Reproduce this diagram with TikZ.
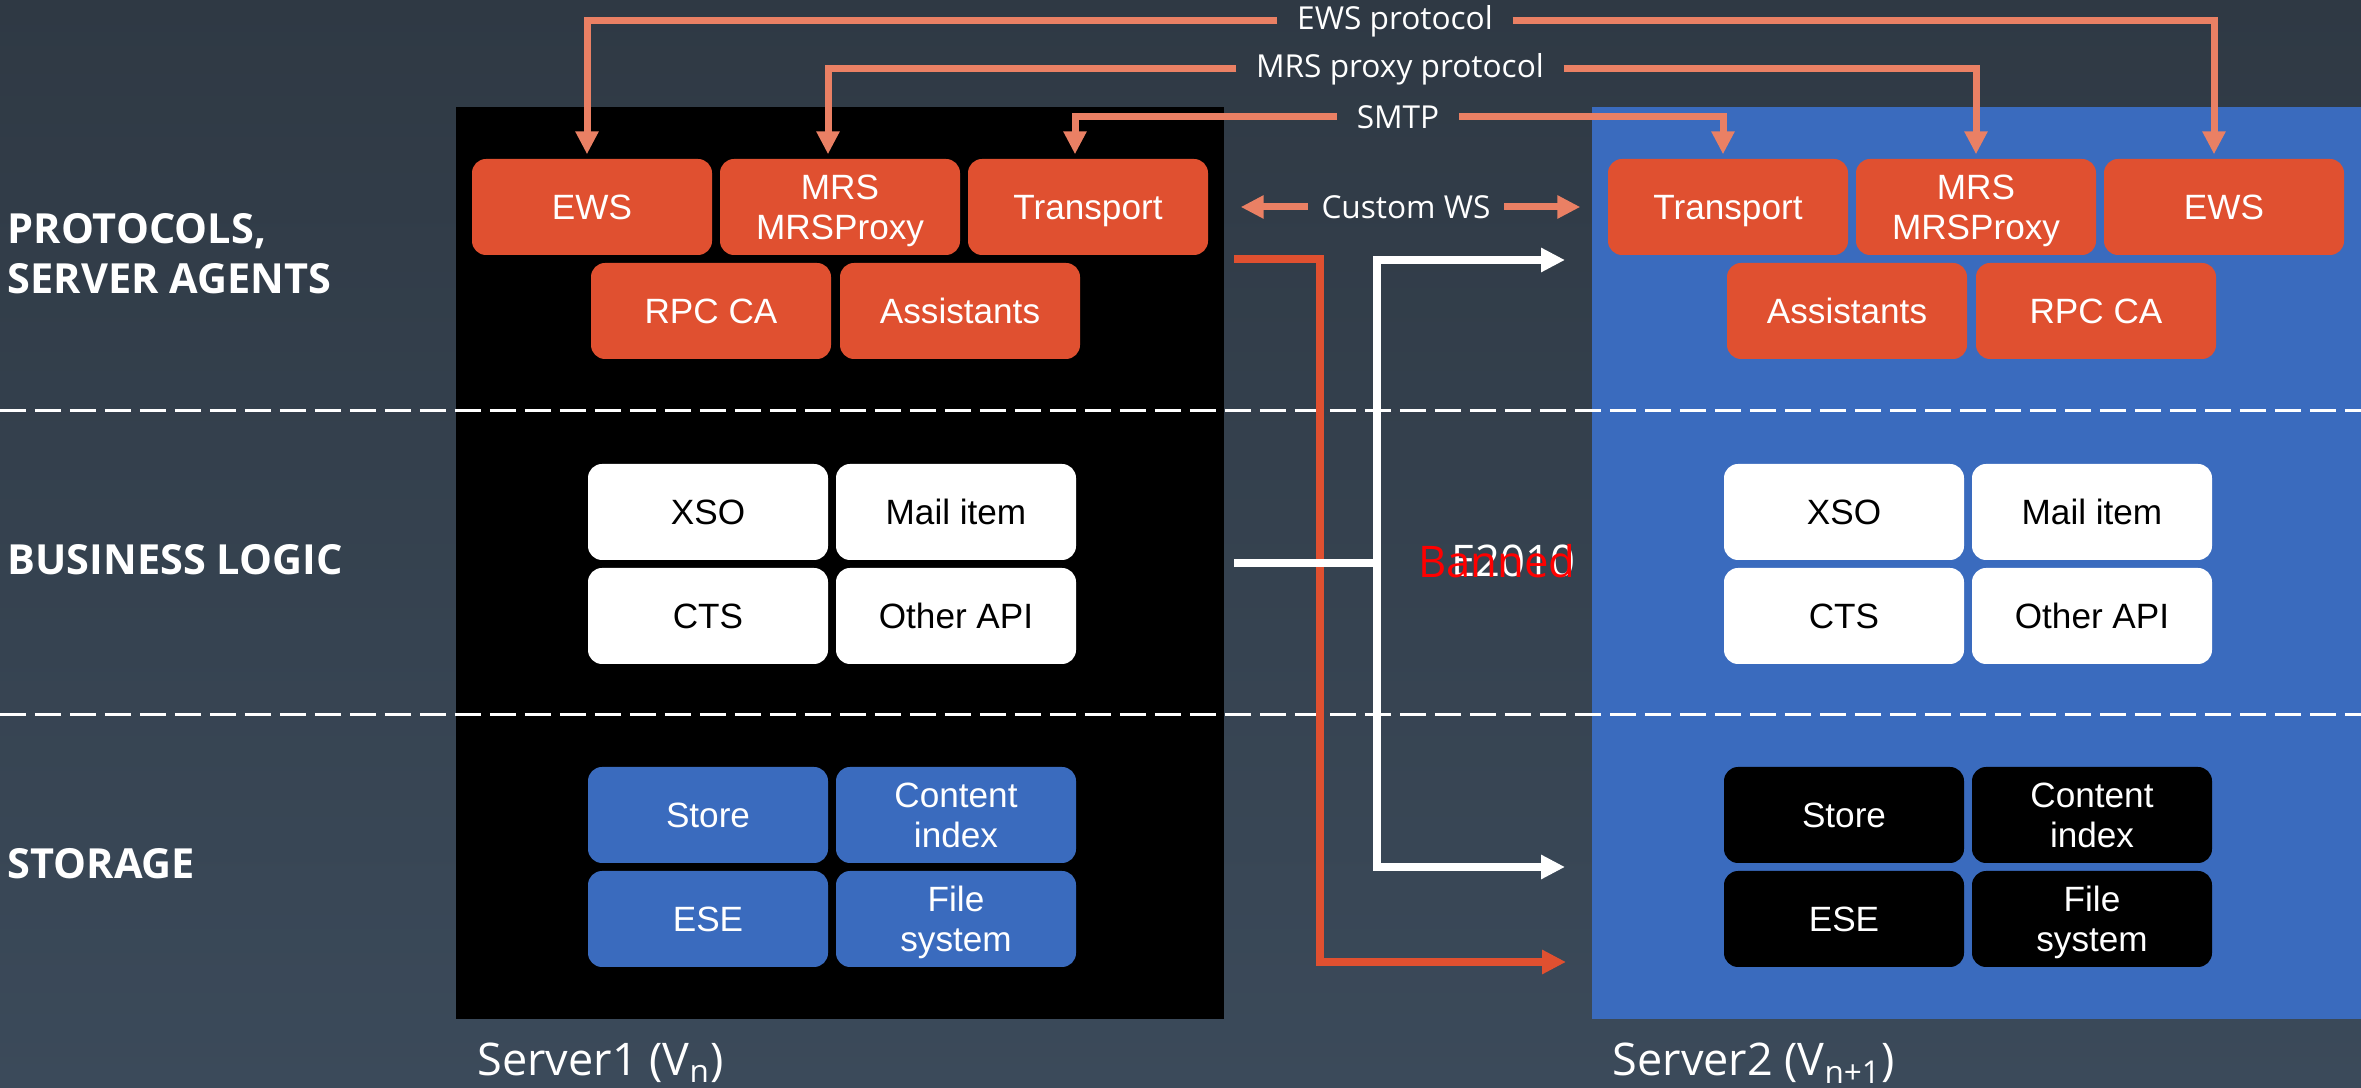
\documentclass[tikz,border=0pt]{standalone}
\usepackage{fontspec}
\setmainfont{Liberation Sans}
\newfontfamily\segoe{Open Sans}
\usetikzlibrary{arrows.meta}

\definecolor{bgtop}{HTML}{2F3944}
\definecolor{bgbot}{HTML}{3B4A5A}
\definecolor{srvblue}{HTML}{3A6BBE}
\definecolor{ptorange}{HTML}{E05030}
\definecolor{protosalmon}{HTML}{EA8064}

\tikzset{
  box/.style={rounded corners=1.4mm, minimum width=24mm, minimum height=9.6mm, inner sep=0pt, align=center, font=\fontsize{10}{11.4}\selectfont},
  ptbox/.style={box, fill=ptorange, text=white},
  logicbox/.style={box, fill=white, text=black},
  storebox/.style={box, fill=srvblue, text=white},
  storeboxdark/.style={box, fill=black, text=white},
  layer/.style={anchor=west, align=left, inner sep=0pt, text=white, font=\segoe\bfseries\fontsize{11.8}{14.2}\selectfont},
  protolabel/.style={text=white, inner xsep=1.9mm, font=\segoe\fontsize{9}{11}\selectfont},
  proto/.style={protosalmon, line width=0.7mm, -{Triangle[length=2.3mm,width=2.2mm]}, shorten >=0.4mm},
  link/.style={line width=0.8mm, -{Triangle[length=2.4mm,width=2.3mm]}},
  srvname/.style={anchor=base west, inner sep=0pt, text=white, font=\segoe\fontsize{12.8}{14}\selectfont},
}

\begin{document}
\begin{tikzpicture}[x=0.1mm, y=-0.1mm]
			\useasboundingbox (0,0) rectangle (2361,1088);
			\fill[top color=bgtop, bottom color=bgbot] (0,0) rectangle (2361,1088);

			% Servers
			\node[fill=black, minimum width=76.8mm, minimum height=91.2mm, inner sep=0pt, outer sep=0pt] (srv1) at (840,563) {};
			\node[fill=srvblue, minimum width=76.9mm, minimum height=91.2mm, inner sep=0pt, outer sep=0pt] (srv2) at (1976.5,563) {};

			% Layer separators
			\draw[white, line width=0.3mm, dash pattern=on 2.6mm off 0.9mm] (0,411) -- (2361,411);
			\draw[white, line width=0.3mm, dash pattern=on 2.6mm off 0.9mm] (0,715) -- (2361,715);

			% Layers
			\node[layer] (lproto) at (7,254) {PROTOCOLS,\\SERVER AGENTS};
			\node[layer] (llogic) at (7,560) {BUSINESS LOGIC};
			\node[layer] (lstore) at (7,864) {STORAGE};

			% Server1 boxes
			\node[ptbox] (ews1) at (592,207) {EWS};
			\node[ptbox] (mrs1) at (840,207) {MRS\\\smash{MRSProxy}};
			\node[ptbox, text depth=0pt] (tr1) at (1088,207) {Transport};
			\node[ptbox] (rpc1) at (711,311) {RPC CA};
			\node[ptbox] (asst1) at (960,311) {Assistants};
			\node[logicbox] (xso1) at (708,512) {XSO};
			\node[logicbox] (mail1) at (956,512) {Mail item};
			\node[logicbox] (cts1) at (708,616) {CTS};
			\node[logicbox] (api1) at (956,616) {Other API};
			\node[storebox] (store1) at (708,815) {Store};
			\node[storebox] (ci1) at (956,815) {Content\\index};
			\node[storebox] (ese1) at (708,919) {ESE};
			\node[storebox] (fs1) at (956,919) {File\\\smash{system}};

			% Server2 boxes
			\node[ptbox, text depth=0pt] (tr2) at (1728,207) {Transport};
			\node[ptbox] (mrs2) at (1976,207) {MRS\\\smash{MRSProxy}};
			\node[ptbox] (ews2) at (2224,207) {EWS};
			\node[ptbox] (asst2) at (1847,311) {Assistants};
			\node[ptbox] (rpc2) at (2096,311) {RPC CA};
			\node[logicbox] (xso2) at (1844,512) {XSO};
			\node[logicbox] (mail2) at (2092,512) {Mail item};
			\node[logicbox] (cts2) at (1844,616) {CTS};
			\node[logicbox] (api2) at (2092,616) {Other API};
			\node[storeboxdark] (store2) at (1844,815) {Store};
			\node[storeboxdark] (ci2) at (2092,815) {Content\\index};
			\node[storeboxdark] (ese2) at (1844,919) {ESE};
			\node[storeboxdark] (fs2) at (2092,919) {File\\\smash{system}};

			% Protocols
			\node[protolabel] (ewsp) at (1395,21) {EWS protocol};
			\node[protolabel] (mrsp) at (1400,69) {MRS proxy protocol};
			\node[protolabel] (smtp) at (1398,117) {SMTP};
			\draw[proto] (ewsp.west) -| ([xshift=-0.5mm]ews1.north);
			\draw[proto] (ewsp.east) -| ([xshift=-1mm]ews2.north);
			\draw[proto] (mrsp.west) -| ([xshift=-1.2mm]mrs1.north);
			\draw[proto] (mrsp.east) -| (mrs2.north);
			\draw[proto] (smtp.west) -| ([xshift=-1.3mm]tr1.north);
			\draw[proto] (smtp.east) -| ([xshift=-0.5mm]tr2.north);

			\node[protolabel, inner xsep=1.3mm] (cws) at (1406,207) {Custom WS};
			\draw[proto, shorten >=3.2mm] (cws.west) -- (tr1.east);
			\draw[proto, shorten >=2.7mm] (cws.east) -- (tr2.west);

			% Upgrade links
			\coordinate (ostart) at (1234,259);
			\coordinate (oturn) at (1320,962);
			\coordinate (oend) at (1566,962);
			\coordinate (wstart) at (1234,563);
			\coordinate (wfork) at (1377,563);
			\coordinate (wtop) at (1565,260);
			\coordinate (wbot) at (1565,867);
			\draw[link, ptorange] (ostart) -| (oturn) -- (oend);
			\draw[line width=0.8mm, white] (wstart) -- (wfork);
			\draw[link, white] (wfork) |- (wtop);
			\draw[link, white] (wfork) |- (wbot);

			\node[anchor=east, inner sep=0pt, text=white, font=\segoe\fontsize{12.4}{15}\selectfont] (e2010) at (1576,561) {E2010};
			\node[anchor=east, inner sep=0pt, text=red, font=\segoe\fontsize{12.4}{15}\selectfont] (banned) at (1576,561) {Banned};

			% Server names
			\node[srvname] (s1name) at (477,1076) {Server1 (V\textsubscript{n})};
			\node[srvname] (s2name) at (1612,1076) {Server2 (V\textsubscript{n+1})};
		\end{tikzpicture}
\end{document}
